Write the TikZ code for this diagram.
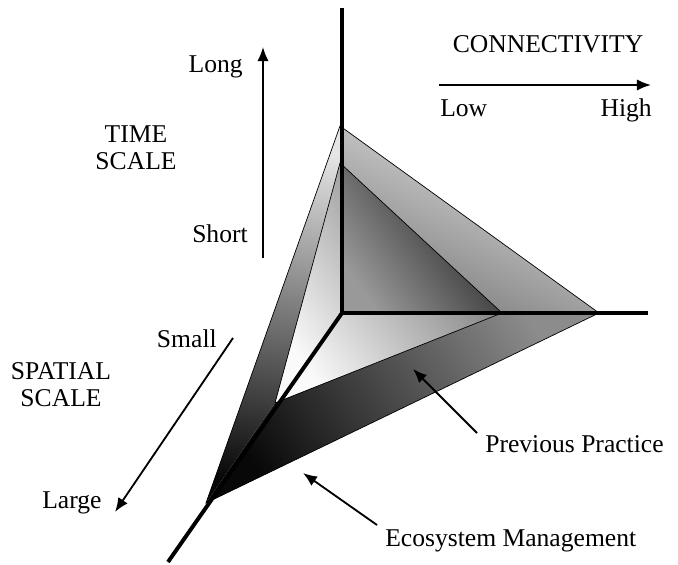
\documentclass[tikz,border=0pt]{standalone}
\usepackage{fontspec}
\setmainfont{Liberation Serif}
\usetikzlibrary{arrows.meta}

\begin{document}
\begin{tikzpicture}[x=0.025cm, y=0.025cm,
                    bigaxis/.style={line width=2.8pt},
                    rim/.style={line width=0.5pt},
                    pointer/.style={line width=1.3pt, -{Latex[length=10pt, width=8pt]}},
                    lbl/.style={inner sep=0pt, align=center,
                                font=\fontsize{18.2}{19}\selectfont}]
\useasboundingbox (0,0) rectangle (678,565);
\coordinate (o) at (342,252);
\coordinate (ecotop) at (340,439);
\coordinate (ecoright) at (599,252);
\coordinate (ecoleft) at (206,62);
\coordinate (prevtop) at (340,402);
\coordinate (prevright) at (502,252);
\coordinate (prevleft) at (275,162);
\coordinate (timeend) at (342,557);
\coordinate (connend) at (648,252);
\coordinate (spaceend) at (168,3);

\shade[top color=black!10, bottom color=black!52, shading angle=-25]
    (ecotop) -- (ecoright) -- (prevright) -- (prevtop) -- cycle;
\shade[top color=black!90, bottom color=black!40, shading angle=-55]
    (prevtop) -- (o) -- (prevright) -- cycle;
\shade[top color=black!58, bottom color=black!2, shading angle=-55]
    (prevtop) -- (o) -- (prevright) -- (prevleft) -- cycle;
\shade[top color=black!45, bottom color=black!97, shading angle=-55]
    (ecoleft) -- (ecoright) -- (prevright) -- (prevleft) -- cycle;
\shade[top color=black!10, bottom color=black!97, shading angle=-10]
    (ecotop) -- (prevtop) -- (prevleft) -- (ecoleft) -- cycle;

\draw[rim] (ecotop) -- (ecoright) -- (ecoleft) -- cycle;
\draw[rim] (prevtop) -- (prevright) -- (prevleft) -- cycle;
\draw[bigaxis] (timeend) -- (o) -- (connend);
\draw[bigaxis] (o) -- (spaceend);

\node[lbl, anchor=base] (connect) at (548,512) {CONNECTIVITY};
\node[lbl, anchor=base west] (low) at (440,448) {Low};
\node[lbl, anchor=base east] (high) at (652,448) {High};
\node[lbl, anchor=base east] (long) at (243,492) {Long};
\node[lbl, anchor=base east] (short) at (248,322) {Short};
\node[lbl] (timescale) at (136,417) {TIME\\SCALE};
\node[lbl, anchor=base east] (small) at (217,217) {Small};
\node[lbl, anchor=base west] (large) at (42,56) {Large};
\node[lbl] (spatialscale) at (61,180) {SPATIAL\\SCALE};
\node[lbl, anchor=base west] (prevtext) at (485,112) {Previous Practice};
\node[lbl, anchor=base west] (ecotext) at (385,18) {Ecosystem Management};

\coordinate (connlow) at (439,480);
\coordinate (connhigh) at (651,480);
\coordinate (timeshort) at (263,307);
\coordinate (timelong) at (263,518);
\coordinate (spacesmall) at (233,227);
\coordinate (spacelarge) at (115,53);
\coordinate (prevtail) at (477,132);
\coordinate (prevtip) at (413,196);
\coordinate (ecotail) at (377,40);
\coordinate (ecotip) at (303,92);

\draw[pointer] (connlow) -- (connhigh);
\draw[pointer] (timeshort) -- (timelong);
\draw[pointer] (spacesmall) -- (spacelarge);
\draw[pointer] (prevtail) -- (prevtip);
\draw[pointer] (ecotail) -- (ecotip);
\end{tikzpicture}
\end{document}
